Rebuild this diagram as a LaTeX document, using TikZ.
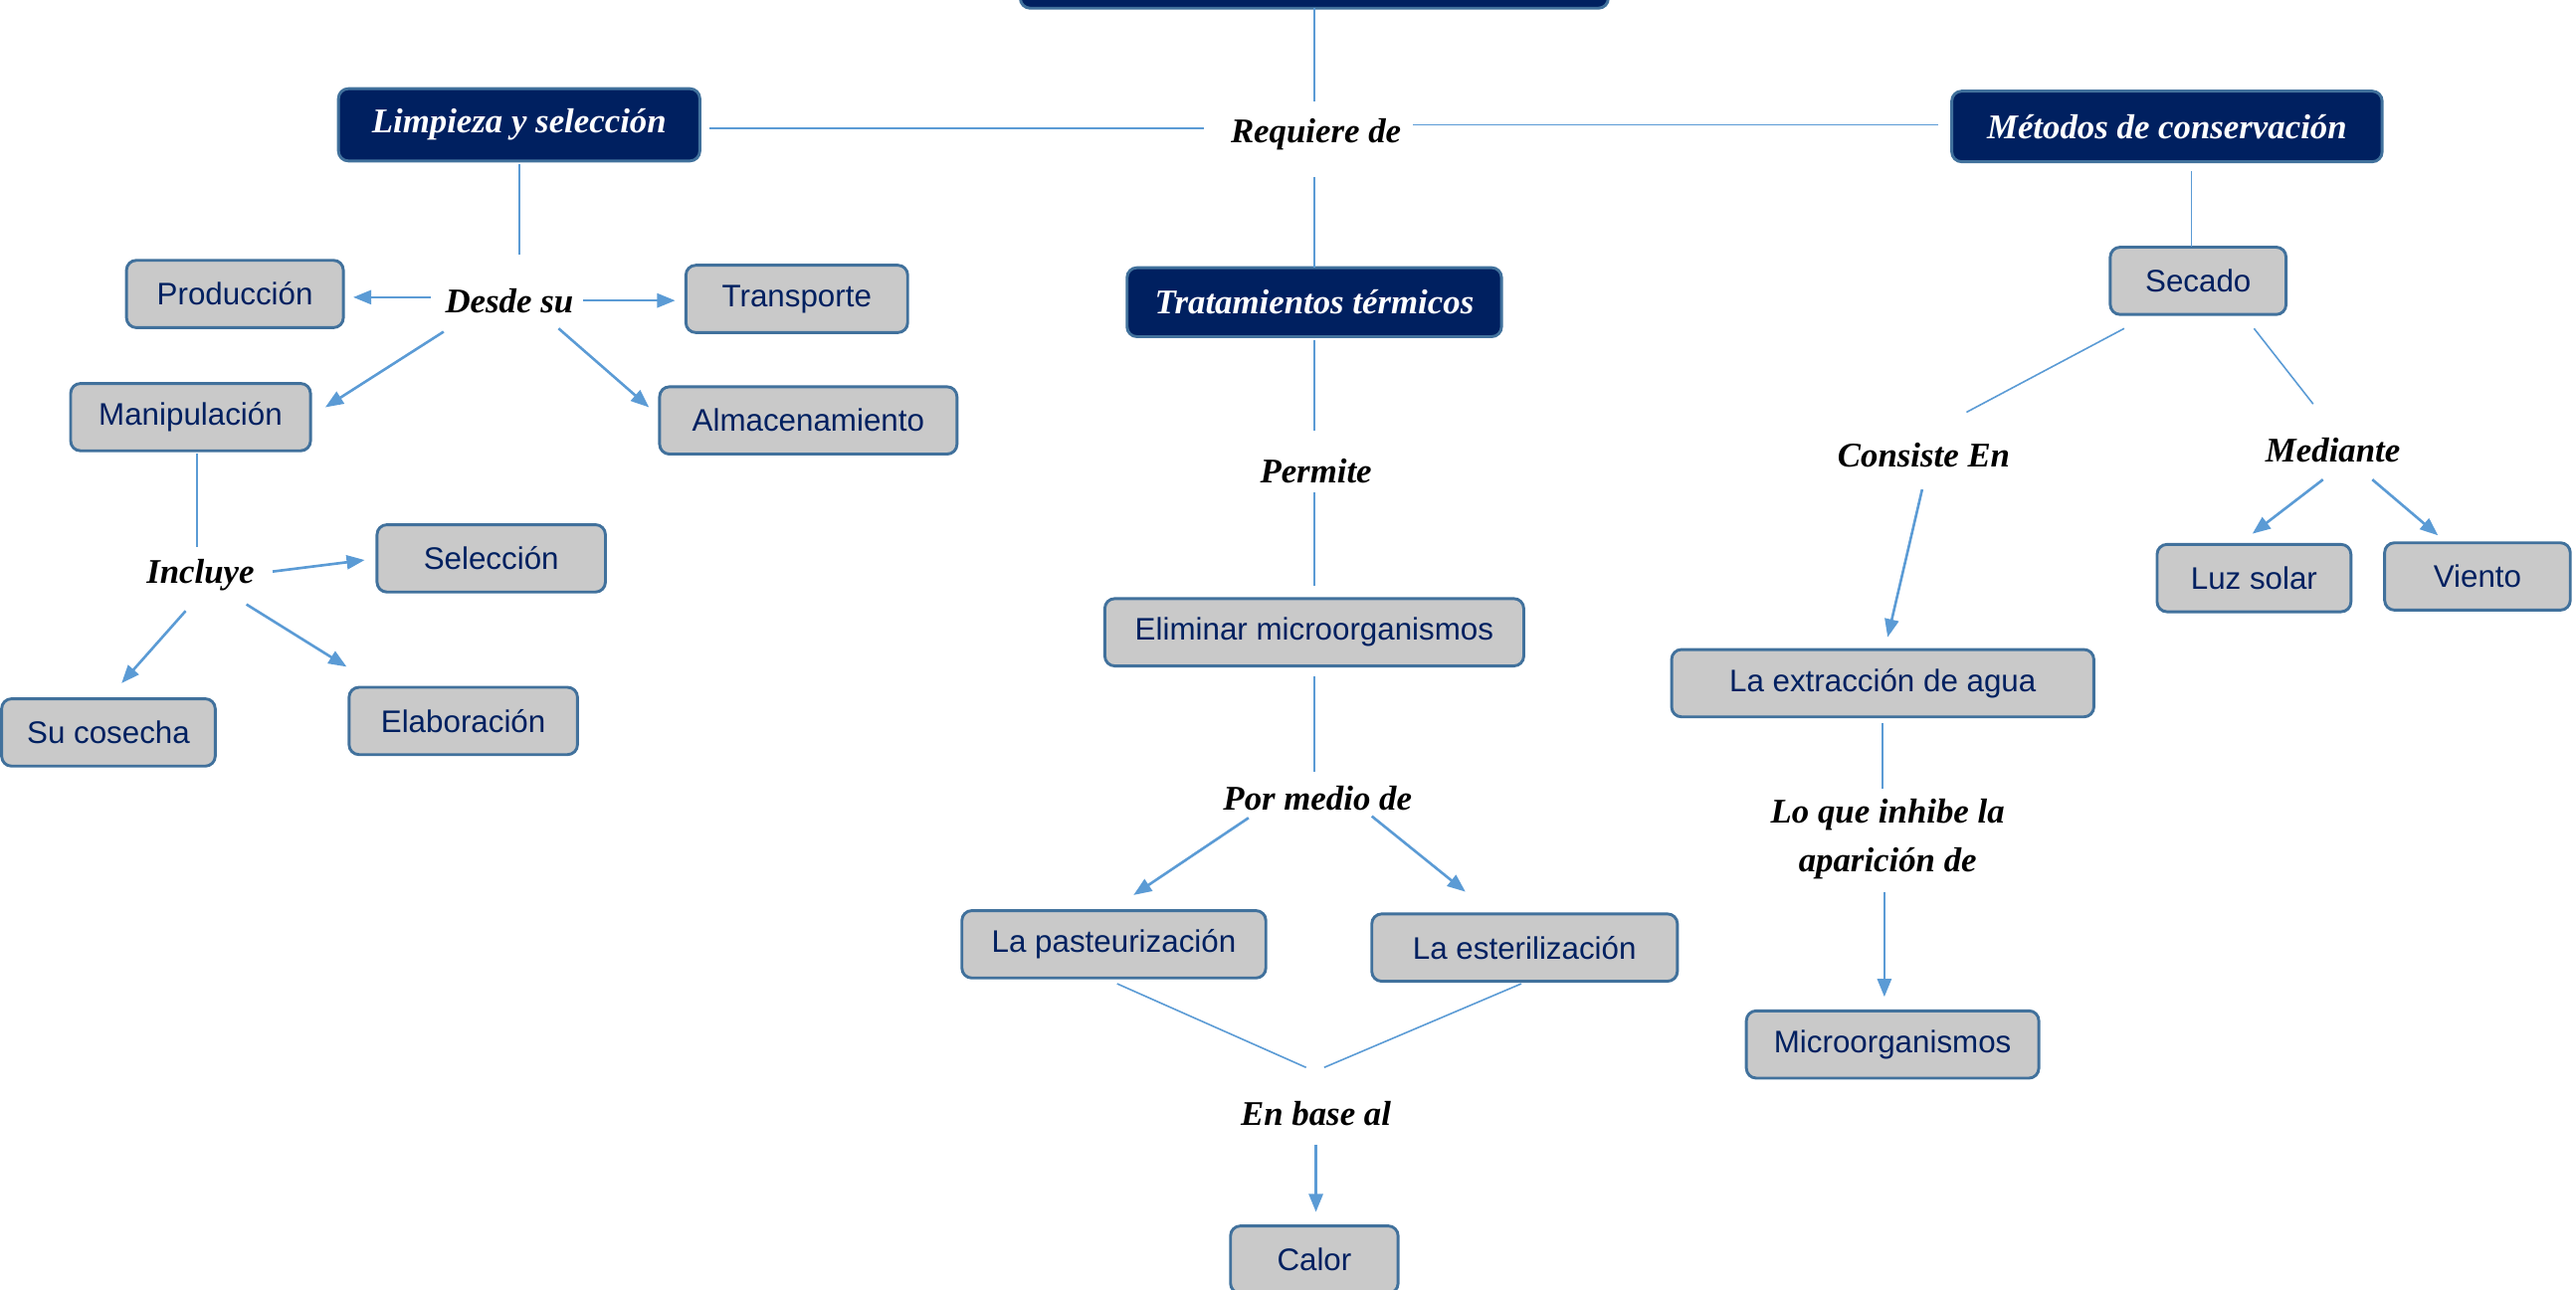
\documentclass[tikz,border=0pt]{standalone}
\usepackage{fontspec}
\newfontfamily\cajafont{Liberation Sans}
\newfontfamily\guionfont{Liberation Serif}
\usetikzlibrary{arrows.meta}
\definecolor{azuloscuro}{HTML}{002060}
\definecolor{borde}{HTML}{41719C}
\definecolor{gris}{HTML}{C9C9C9}
\definecolor{linea}{HTML}{5B9BD5}
\begin{document}
\begin{tikzpicture}[x=0.02cm,y=-0.02cm,
  caja/.style={draw=borde,line width=1pt,rounded corners=0.12cm,fill=gris,text=azuloscuro,
    font=\cajafont\fontsize{10.8}{13}\selectfont,minimum height=0.82cm,inner sep=0pt},
  titulo/.style={caja,fill=azuloscuro,text=white,font=\guionfont\bfseries\itshape\fontsize{12}{14}\selectfont},
  enlace/.style={font=\guionfont\bfseries\itshape\fontsize{12}{17}\selectfont,align=center,inner sep=2pt},
  ln/.style={draw=linea,line width=0.55pt},
  fl/.style={draw=linea,line width=0.9pt,-{Triangle[length=0.22cm,width=0.17cm]}}]
    \useasboundingbox (0,0) rectangle (1568,785);
    \clip (0,0) rectangle (1568,785);
    % titulos
    \node[titulo,minimum width=7.16cm,minimum height=0.88cm] (tema) at (800,-17) {};
    \node[titulo,minimum width=4.4cm,minimum height=0.88cm] (limp) at (316,76) {Limpieza y selección};
    \node[titulo,minimum width=5.24cm,minimum height=0.86cm] (metod) at (1319,77) {Métodos de conservación};
    \node[titulo,minimum width=4.56cm,minimum height=0.84cm] (tratam) at (800,184) {Tratamientos térmicos};
    % cajas grises
    \foreach \n/\x/\y/\w/\t in {prod/143/179/132/Producción, trans/485/182/135/Transporte,
      manip/116/254/146/Manipulación, almac/492/256/181/Almacenamiento,
      selec/299/340/139/Selección, cosecha/66/446/130/Su cosecha, elab/282/439/139/Elaboración,
      elim/800/385/255/Eliminar microorganismos, paste/678/575/185/La pasteurización,
      ester/928/577/186/La esterilización, calor/800/767/102/Calor,
      secado/1338/171/107/Secado, luz/1372/352/118/Luz solar, viento/1508/351/113/Viento,
      extrac/1146/416/257/La extracción de agua, micro/1152/636/178/Microorganismos}
    {
    \node[caja,minimum width=\w*0.02cm] (\n) at (\x,\y) {\t};
    }
    % palabras de enlace
    \foreach \n/\x/\y/\t in {req/801/82/Requiere de, desde/310/183/Desde su, incl/122/350/Incluye,
      permite/801/287/Permite, pormedio/802/486/Por medio de, enbase/801/678/En base al,
      consiste/1171/277/Consiste En, mediante/1420/274/Mediante,
      inhibe/1149/511/{Lo que inhibe la\\aparición de}}
    {
    \node[enlace] (\n) at (\x,\y) {\t};
    }
    % lineas sin flecha
    \foreach \a/\p/\b/\q in {tema/{0,22}/req/{-1,-20}, req/{-68,-4}/limp/{116,2},
      req/{59,-6}/metod/{-139,-1}, req/{-1,26}/tratam/{0,-21}, limp/{0,24}/desde/{6,-28},
      manip/{4,22}/incl/{-2,-17}, tratam/{0,23}/permite/{-1,-25}, permite/{-1,13}/elim/{0,-28},
      elim/{0,27}/pormedio/{-2,-16}, paste/{2,24}/enbase/{-6,-28}, ester/{-2,22}/enbase/{5,-28},
      metod/{15,27}/secado/{-4,-21}, secado/{-45,29}/consiste/{26,-26},
      secado/{34,29}/mediante/{-12,-28}, extrac/{0,24}/inhibe/{-3,-31}}
    {
    \draw[ln] ([shift={(\p)}]\a.center) -- ([shift={(\q)}]\b.center);
    }
    % flechas
    \foreach \a/\p/\b/\q in {desde/{-48,-2}/prod/{72,2}, desde/{45,0}/trans/{-74,1},
      desde/{-40,19}/manip/{82,-6}, desde/{30,17}/almac/{-97,-8},
      incl/{44,-2}/selec/{-77,1}, incl/{-9,22}/cosecha/{8,-30}, incl/{28,18}/elab/{-71,-33},
      pormedio/{-42,12}/paste/{12,-30}, pormedio/{33,11}/ester/{-36,-34},
      enbase/{0,19}/calor/{1,-29}, consiste/{-1,21}/extrac/{3,-28},
      mediante/{-6,18}/luz/{-1,-27}, mediante/{24,18}/viento/{-24,-25},
      inhibe/{-2,32}/micro/{-5,-29}}
    {
    \draw[fl] ([shift={(\p)}]\a.center) -- ([shift={(\q)}]\b.center);
    }
\end{tikzpicture}
\end{document}
